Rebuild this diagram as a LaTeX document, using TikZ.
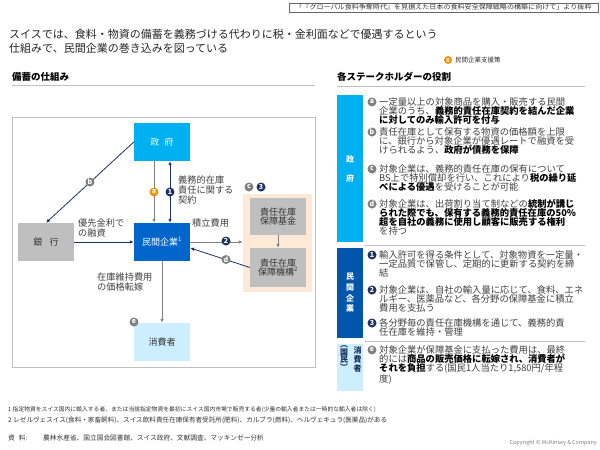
\documentclass[tikz,border=0pt]{standalone}
\usepackage{fontspec}
\setmainfont{Noto Sans CJK JP}
\usetikzlibrary{arrows.meta}
\definecolor{govcyan}{RGB}{0,176,240}
\definecolor{firmblue}{RGB}{0,102,204}
\definecolor{barblue}{RGB}{0,86,170}
\definecolor{lightcyan}{RGB}{204,238,255}
\definecolor{boxgray}{RGB}{191,191,191}
\definecolor{peach}{RGB}{253,233,214}
\definecolor{navy}{RGB}{26,50,100}
\definecolor{arrgray}{RGB}{128,128,128}
\definecolor{circgray}{RGB}{128,128,128}
\definecolor{orangec}{RGB}{243,146,0}
\definecolor{txtgray}{RGB}{64,64,64}
\definecolor{linegray}{RGB}{191,191,191}
\newcommand{\fs}[2]{\fontsize{#1}{#2}\selectfont}
\newcommand{\emphb}[1]{{\bfseries\color{black}#1}}
\tikzset{
  box/.style={inner sep=0pt, minimum width=56pt, minimum height=38pt, font=\fs{9}{9.5}, align=center},
  mk/.style={circle, inner sep=0pt, minimum size=9pt, text=white, font=\fs{7}{7}\bfseries},
  mkgray/.style={mk, fill=circgray},
  mknavy/.style={mk, fill=navy},
  mkorange/.style={mk, fill=orangec},
  grayarrow/.style={draw=arrgray, line width=0.8pt, -{Latex[length=4pt,width=3.5pt]}},
  navyarrow/.style={draw=navy, line width=0.8pt, -{Latex[length=4pt,width=3.5pt]}},
  lbl/.style={inner sep=0pt, font=\fs{9.2}{9.8}, text=txtgray, align=left, anchor=north west},
  item/.style={inner sep=0pt, font=\fs{9.3}{9}, text=txtgray, align=left, anchor=north west},
  vbar/.style={inner sep=0pt, minimum width=26pt, align=center},
  foot/.style={anchor=west, inner sep=0pt, text=black!80},
}
\begin{document}
\begin{tikzpicture}[x=1pt,y=-1pt]
\useasboundingbox (0,0) rectangle (600,450);
\fill[white] (0,0) rectangle (600,450);
% header box
\node[draw=black!60, line width=0.4pt, inner sep=0pt, minimum width=309pt, minimum height=9pt, font=\fs{6.3}{6.3}, text=black!80] (hdr) at (443.5,7.5) {\scalebox{1.12}[1]{「『グローバル食料争奪時代』を見据えた日本の食料安全保障戦略の構築に向けて」より抜粋}};
% title
\node[anchor=north west, inner sep=0pt, align=left, font=\fs{11}{14.5}, text=black!85] (title) at (9,29) {スイスでは、食料・物資の備蓄を義務づける代わりに税・金利面などで優遇するという\\仕組みで、民間企業の巻き込みを図っている};
% legend
\node[mkorange, minimum size=8pt, font=\fs{5.5}{5.5}\bfseries] (legc) at (448,60) {X};
\node[anchor=west, inner sep=0pt, font=\fs{6.5}{6.5}, text=black!80] (legt) at (455,60) {民間企業支援策};
% section headers
\node[anchor=west, inner sep=0pt, font=\fs{9.5}{9.5}\bfseries] (hl) at (12,77) {備蓄の仕組み};
\draw[linegray, line width=0.8pt] (12,85) -- (315,85);
\node[anchor=west, inner sep=0pt, font=\fs{9.5}{9.5}\bfseries] (hr) at (337,77) {各ステークホルダーの役割};
\draw[linegray, line width=0.8pt] (337,86) -- (585,86);
% diagram frame
\draw[linegray, line width=0.8pt] (12,117) rectangle (315,367);
% boxes
\node[box, fill=govcyan, text=white] (gov) at (162,142) {政\hspace{0.6em}府};
\node[box, fill=boxgray, text=black!80] (bank) at (46,242) {銀\hspace{0.8em}行};
\node[box, fill=firmblue, text=white] (firm) at (162,242) {民間企業\textsuperscript{1}};
\node[box, fill=lightcyan, text=black!80] (cons) at (162,342) {消費者};
\node[fill=peach, inner sep=0pt, minimum width=69pt, minimum height=98pt] (panel) at (277.5,243) {};
\node[box, fill=boxgray, text=black!80, minimum height=37pt] (fund) at (278,216.5) {責任在庫\\保障基金};
\node[box, fill=boxgray, text=black!80, minimum height=39pt] (org) at (278,267.5) {責任在庫\\保障機構\textsuperscript{2}};
% connectors
\draw[grayarrow] ([xshift=-8pt]gov.south) -- ([xshift=-8pt]firm.north);
\draw[draw=navy, line width=0.8pt, {Latex[length=4pt,width=3.5pt]}-{Latex[length=4pt,width=3.5pt]}] ([xshift=8pt]gov.south) -- ([xshift=8pt]firm.north);
\draw[navyarrow] (gov.west) -- (bank.north);
\draw[navyarrow] (bank.east) -- (firm.west);
\draw[grayarrow] (firm.east) -- (firm.east -| panel.west);
\draw[grayarrow] (fund.south) -- (org.north);
\draw[navyarrow] (org.west) -- ([yshift=-6pt]firm.east);
\draw[grayarrow] (firm.south) -- (cons.north);
% markers
\node[mkorange] (ca) at (154,192) {a};
\node[mknavy] (c1) at (170,192) {1};
\node[mkgray] (cb) at (90,182) {b};
\node[mknavy] (c2) at (226,241) {2};
\node[mkgray] (cd) at (226,259.5) {d};
\node[mkgray] (cc) at (249,187) {c};
\node[mknavy] (c3) at (261,187) {3};
\node[mkgray] (ce) at (134,322) {e};
% labels
\node[lbl] (l1) at (178,175.5) {義務的在庫\\責任に関する\\契約};
\node[lbl] (lb) at (78,218.5) {優先金利で\\の融資};
\node[lbl] (l2) at (192,218.5) {積立費用};
\node[lbl] (le) at (97,272.5) {在庫維持費用\\の価格転嫁};
% right table bars
\node[vbar, fill=govcyan, minimum height=147pt, text=white, font=\fs{8}{19}\bfseries] (bgov) at (350,168.5) {政\\府};
\node[vbar, fill=barblue, minimum height=90pt, text=white, font=\fs{8}{10.7}\bfseries] (bfirm) at (350,293) {民\\間\\企\\業};
\node[vbar, fill=lightcyan, minimum height=47pt] (bcons) at (350,367.5) {};
\node[inner sep=0pt, align=center, text=navy, font=\fs{8}{9}\bfseries] (tc1) at (357.5,359) {消\\費\\者};
\node[inner sep=0pt, align=center, text=navy, font=\fs{8}{7.5}\bfseries] (tc2) at (344,358) {︵\\国\\民\\︶};
\draw[linegray, line width=0.6pt] (365,245) -- (585,245);
\draw[linegray, line width=0.6pt] (365,341) -- (585,341);
% items
\node[mkgray] (ma) at (372,102) {a};
\node[item] (ta) at (379,97.5) {一定量以上の対象商品を購入・販売する民間\\企業のうち、\emphb{義務的責任在庫契約を結んだ企業}\\\emphb{に対してのみ輸入許可を付与}};
\node[mkgray] (mb) at (372,132) {b};
\node[item] (tb) at (379,127.5) {責任在庫として保有する物資の価格額を上限\\に、銀行から対象企業が優遇レートで融資を受\\けられるよう、\emphb{政府が債務を保障}};
\node[mkgray] (mc) at (372,169) {c};
\node[item] (tcc) at (379,164.5) {対象企業は、義務的責任在庫の保有について\\BS上で特別償却を行い、これにより\emphb{税の繰り延}\\\emphb{べによる優遇}を受けることが可能};
\node[mkgray] (md) at (372,204) {d};
\node[item] (td) at (379,199.5) {対象企業は、出荷割り当て制などの\emphb{統制が講じ}\\\emphb{られた際でも、保有する義務的責任在庫の50\%}\\\emphb{超を自社の義務に使用し顧客に販売する権利}\\を持つ};
\node[mknavy] (m1) at (372,255) {1};
\node[item] (t1) at (379,250.5) {輸入許可を得る条件として、対象物資を一定量・\\一定品質で保管し、定期的に更新する契約を締\\結};
\node[mknavy] (m2) at (372,290) {2};
\node[item] (t2) at (379,285.5) {対象企業は、自社の輸入量に応じて、食料、エネ\\ルギー、医薬品など、各分野の保障基金に積立\\費用を支払う};
\node[mknavy] (m3) at (372,323) {3};
\node[item] (t3) at (379,318.5) {各分野毎の責任在庫機構を通じて、義務的責\\任在庫を維持・管理};
\node[mkgray] (me) at (372,350) {e};
\node[item] (te) at (379,345.5) {対象企業が保障基金に支払った費用は、最終\\的には\emphb{商品の販売価格に転嫁され、消費者が}\\\emphb{それを負担}する(国民1人当たり1,580円/年程\\度)};
% footnotes
\node[foot, font=\fs{5.8}{5.8}] (fn1) at (8,410) {1 指定物資をスイス国内に輸入する者、または当該指定物資を最初にスイス国内市場で販売する者(少量の輸入者または一時的な輸入者は除く)};
\node[foot, font=\fs{6.6}{6.6}] (fn2) at (8,420.5) {2 レゼルヴェスイス(食料・家畜飼料)、スイス飲料責任在庫保有者受託所(肥料)、カルブラ(燃料)、ヘルヴェキュラ(医薬品)がある};
\node[foot, font=\fs{6.7}{6.7}] (src1) at (8,438) {資\hspace{0.6em}料:};
\node[foot, font=\fs{6.7}{6.7}] (src2) at (43,438) {農林水産省、国立国会図書館、スイス政府、文献調査、マッキンゼー分析};
\node[anchor=east, inner sep=0pt, font=\fs{5.5}{5.5}, text=black!50] (copy) at (597,443) {Copyright © McKinsey \& Company};
\end{tikzpicture}
\end{document}
